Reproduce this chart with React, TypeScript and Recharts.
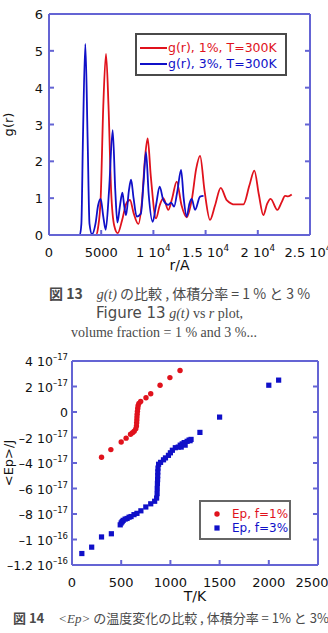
import { Legend, Line, LineChart, Scatter, ScatterChart, XAxis, YAxis } from "recharts";

const FRAME = "#6464d4";
const RED = "#e0121c";
const BLUE = "#1010c8";
const FONT = "'DejaVu Sans', sans-serif";
const CAPTION = "#4a4a4a";

// Fig. 13: g(r) against r (Å)
const gr1pct: [number, number][] = [
  [0, 0], [4500, 0], [4700, 0.2], [4950, 1.0], [5200, 3.5], [5460, 4.92], [5700, 3.5],
  [5950, 1.2], [6250, 0.25], [6580, 0.05], [7000, 0.4], [7400, 0.85], [7760, 0.95],
  [8100, 0.6], [8560, 0.3], [8900, 0.9], [9200, 2.1], [9450, 2.62], [9750, 1.6],
  [10250, 0.45], [10600, 0.8], [10950, 1.0], [11430, 0.68], [11800, 1.0], [12230, 1.45],
  [12700, 0.8], [13190, 0.48], [13700, 1.0], [14100, 1.8], [14470, 2.15], [14900, 1.2],
  [15420, 0.41], [15900, 0.8], [16450, 1.28], [17020, 0.95], [17820, 0.83], [18620, 0.83],
  [19200, 1.35], [19670, 1.75], [20100, 1.1], [20530, 0.54], [20900, 0.85], [21230, 0.98],
  [21870, 0.68], [22300, 0.9], [22610, 1.06], [22900, 1.05], [23250, 1.1],
];
const gr3pct: [number, number][] = [
  [0, 0], [2950, 0], [3100, 0.3], [3250, 2.6], [3480, 5.19], [3700, 2.6], [3880, 0.3],
  [4120, 0.02], [4450, 0.3], [4700, 0.8], [4950, 0.98], [5200, 0.5], [5430, 0.14],
  [5750, 1.2], [6100, 2.85], [6350, 1.2], [6550, 0.34], [6800, 0.8], [7030, 1.15],
  [7200, 0.8], [7380, 0.54], [7650, 1.2], [7860, 1.5], [8100, 1.0], [8400, 0.5],
  [8800, 0.58], [9050, 1.4], [9290, 2.25], [9550, 1.1], [9930, 0.36], [10250, 0.8],
  [10600, 1.31], [10950, 0.95], [11430, 0.82], [11700, 0.88], [11980, 0.77], [12300, 1.2],
  [12650, 1.77], [12900, 1.0], [13190, 0.5], [13450, 0.85], [13670, 0.98], [13990, 0.68],
  [14470, 1.04], [14800, 1.06],
];
const grNames = ["g(r), 1%, T=300K", "g(r), 3%, T=300K"];
const rTicks = [0, 5000, 10000, 15000, 20000, 25000];
const rTickText: [string, string][] = [
  ["0", ""], ["5000", ""], ["1 10", "4"], ["1.5 10", "4"], ["2 10", "4"], ["2.5 10", "4"],
];
const gTicks = [0, 1, 2, 3, 4, 5, 6];

// Fig. 14: <Ep> (J) against T (K)
const ep1pct: [number, number][] = [
  [300, -3.55e-17], [395, -2.95e-17], [500, -2.35e-17], [550, -2.05e-17], [595, -1.75e-17],
  [615, -1.62e-17], [632, -1.5e-17], [648, -1.32e-17], [655, -1.1e-17], [657, -0.85e-17],
  [659, -0.62e-17], [660, -0.4e-17], [662, -0.18e-17], [665, 0.05e-17], [668, 0.28e-17],
  [672, 0.5e-17], [680, 0.68e-17], [698, 0.82e-17], [752, 1.12e-17], [800, 1.43e-17],
  [895, 2.1e-17], [995, 2.7e-17], [1098, 3.25e-17],
];
const ep3pct: [number, number][] = [
  [100, -11.1e-17], [200, -10.6e-17], [300, -9.8e-17], [400, -9.55e-17], [490, -8.85e-17],
  [500, -8.7e-17], [510, -8.6e-17], [520, -8.5e-17], [540, -8.4e-17], [560, -8.35e-17],
  [580, -8.25e-17], [600, -8.2e-17], [630, -8.05e-17], [660, -7.95e-17], [700, -7.75e-17],
  [750, -7.45e-17], [800, -7.2e-17], [840, -7.0e-17], [860, -6.75e-17], [865, -6.4e-17],
  [866, -6.0e-17], [868, -5.6e-17], [870, -5.3e-17], [871, -5.0e-17], [872, -4.7e-17],
  [874, -4.4e-17], [880, -4.1e-17], [900, -3.95e-17], [930, -3.75e-17], [950, -3.6e-17],
  [980, -3.4e-17], [1000, -3.2e-17], [1020, -3.0e-17], [1050, -2.8e-17], [1080, -2.75e-17],
  [1100, -2.6e-17], [1110, -2.75e-17], [1120, -2.5e-17], [1140, -2.4e-17], [1150, -2.6e-17],
  [1170, -2.3e-17], [1190, -2.2e-17], [1200, -2.25e-17], [1210, -2.15e-17], [1300, -1.6e-17],
  [1500, -0.4e-17], [2000, 2.1e-17], [2100, 2.5e-17],
];
const epNames = ["Ep, f=1%", "Ep, f=3%"];
const tTicks = [0, 500, 1000, 1500, 2000, 2500];
const epTicks = [-1.2e-16, -1e-16, -8e-17, -6e-17, -4e-17, -2e-17, 0, 2e-17, 4e-17];
const epTickText: [string, string][] = [
  ["\u20131.2 10", "\u201316"], ["\u20131 10", "\u201316"], ["\u20138 10", "\u201317"],
  ["\u20136 10", "\u201317"], ["\u20134 10", "\u201317"], ["\u20132 10", "\u201317"],
  ["0", ""], ["2 10", "\u201317"], ["4 10", "\u201317"],
];

const red13 = gr1pct.map(([r, g]) => ({ r, g }));
const blue13 = gr3pct.map(([r, g]) => ({ r, g }));
const red14 = ep1pct.map(([T, Ep]) => ({ T, Ep }));
const blue14 = ep3pct.map(([T, Ep]) => ({ T, Ep }));

function PowText({ x, y, anchor, base, sup, size }: any) {
  return (
    <text x={x} y={y} textAnchor={anchor} fontSize={size} fill="#111" fontFamily={FONT}>
      {base}
      {sup ? <tspan dy={-6} fontSize={size * 0.68}>{sup}</tspan> : null}
    </text>
  );
}

function tickFrom(values: number[], texts: [string, string][], side: "bottom" | "left", size = 13) {
  return (props: any) => {
    const { x, y, payload } = props;
    const i = values.findIndex((v) => Math.abs(v - payload.value) <= Math.abs(v) * 1e-9);
    const [base, sup] = i >= 0 ? texts[i] : [String(payload.value), ""];
    if (side === "bottom") return <PowText x={x} y={y + 22} anchor="middle" base={base} sup={sup} size={size} />;
    return <PowText x={x} y={y + 5} anchor="end" base={base} sup={sup} size={size} />;
  };
}

const noLabel = () => <g />;

const axisLabel = (text: string, vertical: boolean, offset: number) => (props: any) => {
  const vb = props.viewBox;
  if (vertical) {
    const cx = offset;
    const cy = vb.y + vb.height / 2;
    return (
      <text x={cx} y={cy} transform={`rotate(-90 ${cx} ${cy})`} textAnchor="middle" dominantBaseline="central" fontSize={13} fill="#111" fontFamily={FONT}>
        {text}
      </text>
    );
  }
  return (
    <text x={vb.x + vb.width / 2} y={vb.y + offset} textAnchor="middle" fontSize={14} fill="#111" fontFamily={FONT}>
      {text}
    </text>
  );
};

const Dot = (props: any) => <circle cx={props.cx} cy={props.cy} r={2.7} fill={RED} />;
const Sq = (props: any) => <rect x={props.cx - 2.6} y={props.cy - 2.6} width={5.2} height={5.2} fill={BLUE} />;

function GrLegend() {
  const colors = [RED, BLUE];
  return (
    <div style={{ width: 152, height: 43, boxSizing: "border-box", border: "2px solid #4a4a4a", background: "#fff", paddingTop: 5, paddingLeft: 3 }}>
      {grNames.map((n, i) => (
        <div key={n} style={{ display: "flex", alignItems: "center", height: 16 }}>
          <span style={{ display: "inline-block", width: 27, height: 2, background: colors[i] }} />
          <span style={{ marginLeft: 1, color: colors[i], fontSize: 12.5, fontFamily: FONT, lineHeight: "16px", whiteSpace: "nowrap" }}>{n}</span>
        </div>
      ))}
    </div>
  );
}

function EpLegend() {
  return (
    <div style={{ width: 92, height: 40, boxSizing: "border-box", border: "2px solid #666", background: "#fff", paddingTop: 5 }}>
      {epNames.map((n, i) => (
        <div key={n} style={{ display: "flex", alignItems: "center", height: 14 }}>
          <svg width={31} height={14}>
            {i === 0 ? <circle cx={16} cy={7} r={2.7} fill={RED} /> : <rect x={13.4} y={4.4} width={5.2} height={5.2} fill={BLUE} />}
          </svg>
          <span style={{ color: i === 0 ? RED : BLUE, fontSize: 12, fontFamily: FONT, lineHeight: "14px", whiteSpace: "nowrap" }}>{n}</span>
        </div>
      ))}
    </div>
  );
}

const jp = "'Noto Sans CJK JP', sans-serif";
const serif = "'Liberation Serif', serif";
const frameLine = { stroke: FRAME, strokeWidth: 2 };

export default function App() {
  return (
    <div style={{ position: "absolute", left: 0, top: 0, width: 328, height: 633, background: "#fff", overflow: "hidden" }}>
      <div style={{ position: "absolute", left: 0, top: 0 }}>
        <LineChart width={328} height={275} margin={{ top: 13, right: 17, bottom: 0, left: 0 }}>
          <XAxis xAxisId="b" dataKey="r" type="number" domain={[0, 25000]} ticks={rTicks} allowDataOverflow height={40}
            stroke={FRAME} axisLine={frameLine} tickLine={frameLine} tickSize={-5} tickMargin={5} tick={tickFrom(rTicks, rTickText, "bottom")}
            label={{ content: axisLabel("r/A", false, 35) }} />
          <XAxis xAxisId="t" orientation="top" type="number" domain={[0, 25000]} ticks={rTicks} allowDataOverflow height={1}
            stroke={FRAME} axisLine={frameLine} tickLine={frameLine} tickSize={-5} tick={noLabel} />
          <YAxis yAxisId="l" type="number" domain={[0, 6]} ticks={gTicks} allowDataOverflow width={49}
            stroke={FRAME} axisLine={frameLine} tickLine={frameLine} tickSize={-5} tickMargin={11}
            tick={tickFrom(gTicks, gTicks.map((g) => [String(g), ""] as [string, string]), "left")}
            label={{ content: axisLabel("g(r)", true, 8) }} />
          <YAxis yAxisId="r" orientation="right" type="number" domain={[0, 6]} ticks={gTicks} allowDataOverflow width={1}
            stroke={FRAME} axisLine={frameLine} tickLine={frameLine} tickSize={-5} tick={noLabel} />
          <Line xAxisId="b" yAxisId="l" data={red13} dataKey="g" name={grNames[0]} type="monotone" stroke={RED} strokeWidth={1.8} dot={false} isAnimationActive={false} />
          <Line xAxisId="b" yAxisId="l" data={blue13} dataKey="g" name={grNames[1]} type="monotone" stroke={BLUE} strokeWidth={1.8} dot={false} isAnimationActive={false} />
          <Legend layout="horizontal" verticalAlign="middle" align="center" wrapperStyle={{ top: 33, left: 135, width: 152, height: 43 }} content={() => <GrLegend />} />
        </LineChart>
      </div>

      <div style={{ position: "absolute", left: 49, top: 284, whiteSpace: "nowrap", color: CAPTION, fontSize: 14, lineHeight: "18px" }}>
        <span style={{ fontFamily: jp, fontWeight: 700 }}>図 13</span>
        <span style={{ fontFamily: serif, fontStyle: "italic", marginLeft: 14 }}>g(t)</span>
        <span style={{ fontFamily: jp }}> の比較 , 体積分率 = 1 % と 3 %</span>
      </div>
      <div style={{ position: "absolute", left: 96, top: 304, whiteSpace: "nowrap", color: CAPTION, lineHeight: "18px" }}>
        <span style={{ fontFamily: FONT, fontSize: 15 }}>Figure 13</span>
        <span style={{ fontFamily: serif, fontSize: 14 }}>  <i>g(t)</i> vs <i>r</i> plot,</span>
      </div>
      <div style={{ position: "absolute", left: 0, width: 328, top: 324, textAlign: "center", whiteSpace: "nowrap", color: CAPTION, fontFamily: serif, fontSize: 14, lineHeight: "18px" }}>
        volume fraction = 1 % and 3 %...
      </div>

      <div style={{ position: "absolute", left: 0, top: 340 }}>
        <ScatterChart width={328} height={265} margin={{ top: 20, right: 9, bottom: 0, left: 0 }}>
          <XAxis xAxisId="b" dataKey="T" type="number" domain={[0, 2500]} ticks={tTicks} allowDataOverflow height={40}
            stroke={FRAME} axisLine={frameLine} tickLine={frameLine} tickSize={-5} tickMargin={5}
            tick={tickFrom(tTicks, tTicks.map((t) => [String(t), ""] as [string, string]), "bottom")}
            label={{ content: axisLabel("T/K", false, 36) }} />
          <XAxis xAxisId="t" orientation="top" type="number" domain={[0, 2500]} ticks={tTicks} allowDataOverflow height={1}
            stroke={FRAME} axisLine={frameLine} tickLine={frameLine} tickSize={-5} tick={noLabel} />
          <YAxis yAxisId="l" dataKey="Ep" type="number" domain={[-1.2e-16, 4e-17]} ticks={epTicks} allowDataOverflow width={72}
            stroke={FRAME} axisLine={frameLine} tickLine={frameLine} tickSize={-5} tickMargin={9} tick={tickFrom(epTicks, epTickText, "left", 12.5)}
            label={{ content: axisLabel("<Ep>/J", true, 8) }} />
          <YAxis yAxisId="r" orientation="right" type="number" domain={[-1.2e-16, 4e-17]} ticks={epTicks} allowDataOverflow width={1}
            stroke={FRAME} axisLine={frameLine} tickLine={frameLine} tickSize={-5} tick={noLabel} />
          <Scatter xAxisId="b" yAxisId="l" data={red14} name={epNames[0]} fill={RED} shape={Dot} isAnimationActive={false} />
          <Scatter xAxisId="b" yAxisId="l" data={blue14} name={epNames[1]} fill={BLUE} shape={Sq} isAnimationActive={false} />
          <Legend layout="horizontal" verticalAlign="middle" align="center" wrapperStyle={{ top: 160, left: 199, width: 92, height: 40 }} content={() => <EpLegend />} />
        </ScatterChart>
      </div>

      <div style={{ position: "absolute", left: 13, top: 609, whiteSpace: "nowrap", color: CAPTION, fontSize: 13, lineHeight: "18px" }}>
        <span style={{ fontFamily: jp, fontWeight: 700 }}>図 14</span>
        <span style={{ fontFamily: serif, fontStyle: "italic", marginLeft: 14 }}>&lt;Ep&gt;</span>
        <span style={{ fontFamily: jp }}> の温度変化の比較 , 体積分率 = 1% と 3%</span>
      </div>
    </div>
  );
}
